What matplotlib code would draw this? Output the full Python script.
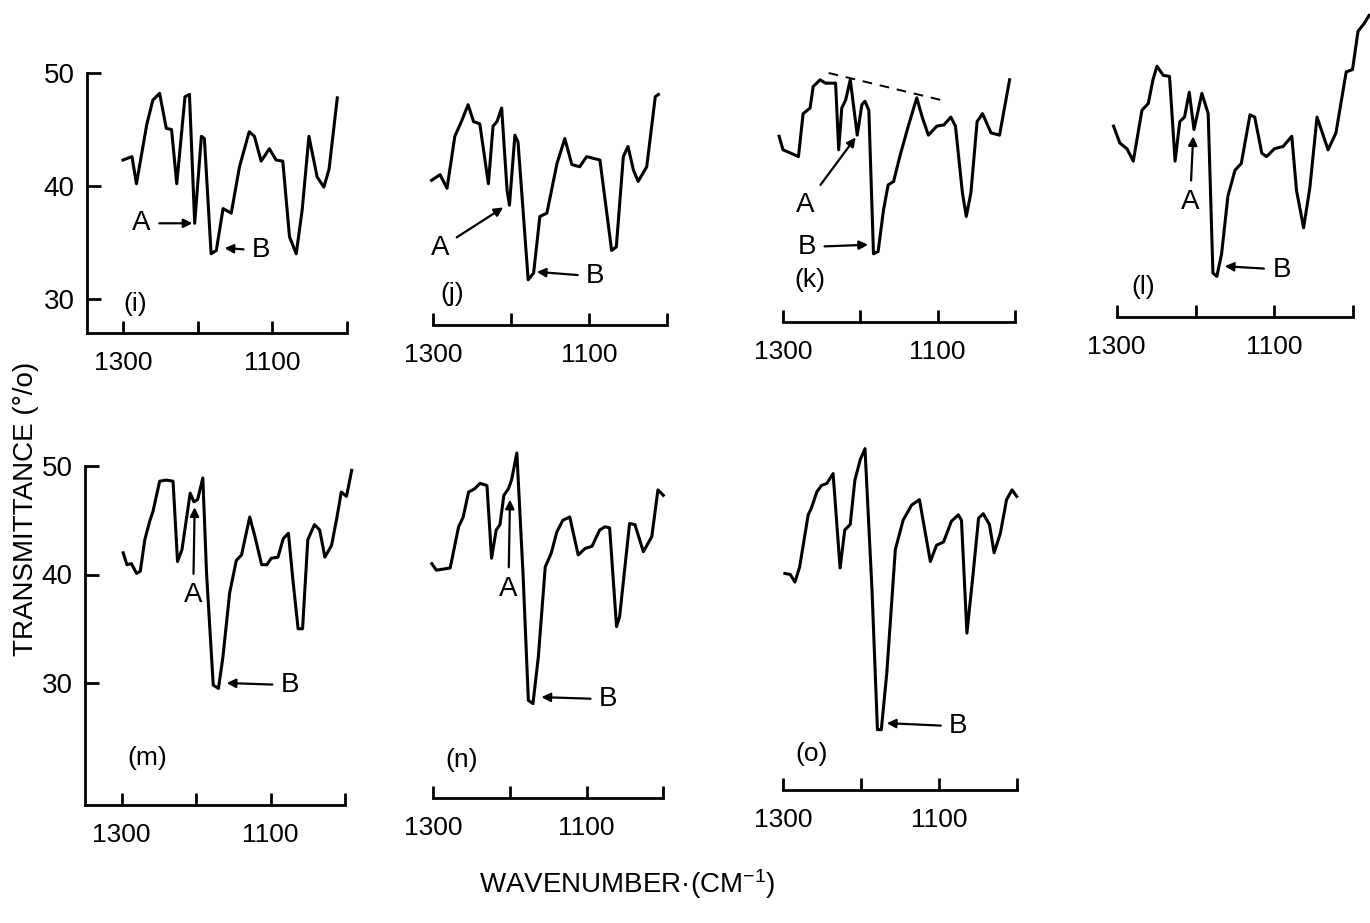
import matplotlib
matplotlib.use("Agg")
import matplotlib.pyplot as plt

plt.rcParams["font.family"] = ["Liberation Sans", "DejaVu Sans"]
plt.rcParams["mathtext.fontset"] = "custom"
plt.rcParams["mathtext.rm"] = "Liberation Sans"
plt.rcParams["mathtext.it"] = "Liberation Sans"

# ── DATA ─────────────────────────────────────────────────────────────────────
wn_i = [1300, 1288, 1282, 1268, 1260, 1251, 1242, 1235, 1228, 1217, 1211, 1204, 1195, 1191, 1182,
        1175, 1166, 1155, 1144, 1131, 1124, 1115, 1104, 1095, 1086, 1077, 1068, 1060, 1051, 1040,
        1031, 1024, 1013]
tr_i = [42.3, 42.6, 40.2, 45.5, 47.6, 48.2, 45.1, 45.0, 40.2, 47.9, 48.1, 36.7, 44.4, 44.2, 34.0,
        34.3, 38.0, 37.6, 41.7, 44.8, 44.4, 42.2, 43.3, 42.3, 42.2, 35.5, 34.0, 37.9, 44.4, 40.8,
        39.9, 41.5, 47.8]

wn_j = [1302, 1291, 1282, 1272, 1263, 1255, 1248, 1240, 1229, 1223, 1218, 1212, 1205, 1202, 1195,
        1191, 1178, 1171, 1163, 1154, 1141, 1131, 1122, 1112, 1103, 1086, 1071, 1065, 1056, 1050,
        1043, 1037, 1026, 1015, 1011]
tr_j = [40.5, 41.0, 39.8, 44.4, 45.8, 47.2, 45.7, 45.5, 40.2, 45.3, 45.7, 46.9, 39.6, 38.3, 44.5,
        43.9, 31.7, 32.3, 37.3, 37.6, 42.0, 44.2, 41.9, 41.7, 42.6, 42.3, 34.3, 34.6, 42.6, 43.5,
        41.4, 40.4, 41.7, 47.9, 48.1]

wn_k = [1305, 1300, 1293, 1280, 1274, 1265, 1261, 1252, 1245, 1237, 1232, 1228, 1224, 1219, 1213,
        1204, 1198, 1194, 1189, 1183, 1177, 1170, 1164, 1157, 1149, 1138, 1127, 1120, 1112, 1101,
        1092, 1083, 1077, 1068, 1063, 1057, 1049, 1042, 1031, 1020, 1007]
tr_k = [44.4, 43.2, 43.0, 42.6, 46.4, 46.9, 48.8, 49.4, 49.1, 49.1, 49.1, 43.2, 46.9, 47.6, 49.4,
        44.5, 47.2, 47.5, 46.7, 34.0, 34.2, 37.9, 40.1, 40.4, 42.6, 45.3, 47.8, 46.1, 44.5, 45.3,
        45.4, 46.1, 45.3, 39.4, 37.3, 39.4, 45.7, 46.4, 44.7, 44.5, 49.4]
baseline_k = [(1241, 1089), (50.0, 47.5)]   # dashed baseline drawn over (k)

wn_l = [1304, 1296, 1287, 1279, 1268, 1260, 1254, 1249, 1241, 1233, 1226, 1220, 1214, 1208, 1202,
        1192, 1184, 1178, 1173, 1167, 1159, 1150, 1142, 1131, 1125, 1116, 1110, 1100, 1089, 1078,
        1072, 1063, 1055, 1046, 1032, 1022, 1009, 1001, 994, 986, 980]
tr_l = [45.3, 43.8, 43.3, 42.2, 46.7, 47.3, 49.4, 50.6, 49.8, 49.7, 42.2, 45.7, 46.1, 48.3, 45.0,
        48.2, 46.4, 32.3, 32.0, 34.0, 39.1, 41.4, 42.0, 46.3, 46.1, 42.9, 42.6, 43.3, 43.5, 44.4,
        39.6, 36.3, 39.9, 46.1, 43.2, 44.7, 50.1, 50.3, 53.7, 54.4, 55.1]

wn_m = [1298, 1293, 1287, 1280, 1275, 1269, 1262, 1258, 1249, 1240, 1231, 1225, 1219, 1208, 1203,
        1198, 1191, 1186, 1177, 1170, 1164, 1155, 1146, 1139, 1128, 1121, 1112, 1105, 1099, 1090,
        1083, 1076, 1070, 1063, 1057, 1050, 1041, 1034, 1027, 1018, 1011, 1005, 998, 991]
tr_m = [42.0, 40.9, 41.0, 40.1, 40.3, 43.2, 45.0, 45.8, 48.6, 48.7, 48.6, 41.2, 42.3, 47.5, 46.7,
        46.9, 48.9, 40.1, 29.8, 29.5, 32.4, 38.3, 41.3, 41.8, 45.3, 43.5, 40.9, 40.9, 41.5, 41.6,
        43.3, 43.8, 39.5, 35.0, 35.0, 43.2, 44.6, 44.1, 41.6, 42.7, 45.2, 47.6, 47.2, 49.6]

wn_n = [1302, 1296, 1278, 1267, 1261, 1254, 1246, 1239, 1230, 1224, 1218, 1213, 1208, 1202, 1198,
        1191, 1183, 1176, 1170, 1163, 1154, 1146, 1139, 1131, 1122, 1111, 1102, 1093, 1083, 1076,
        1070, 1061, 1057, 1044, 1037, 1026, 1015, 1007, 1000]
tr_n = [41.0, 40.4, 40.6, 44.4, 45.3, 47.6, 47.9, 48.4, 48.2, 41.5, 44.1, 44.6, 47.3, 47.9, 48.7,
        51.2, 40.1, 28.4, 28.1, 32.4, 40.7, 42.0, 43.9, 45.0, 45.3, 41.8, 42.4, 42.6, 44.1, 44.4,
        44.3, 35.2, 36.1, 44.7, 44.6, 42.1, 43.5, 47.8, 47.3]

wn_o = [1298, 1291, 1285, 1279, 1268, 1264, 1257, 1251, 1244, 1236, 1227, 1221, 1214, 1208, 1201,
        1195, 1186, 1179, 1174, 1167, 1156, 1146, 1135, 1125, 1111, 1103, 1094, 1084, 1075, 1071,
        1064, 1056, 1049, 1043, 1035, 1029, 1021, 1013, 1006, 1000]
tr_o = [40.1, 40.0, 39.3, 40.7, 45.5, 46.1, 47.6, 48.2, 48.4, 49.3, 40.6, 44.1, 44.6, 48.7, 50.6,
        51.6, 38.6, 25.7, 25.7, 30.9, 42.3, 45.0, 46.4, 46.9, 41.2, 42.7, 43.0, 44.9, 45.5, 45.0,
        34.6, 40.1, 45.2, 45.6, 44.6, 42.0, 43.8, 46.9, 47.8, 47.2]

x_ticks = [1300, 1200, 1100, 1000]
x_tick_labels = ["1300", "", "1100", ""]
y_ticks = [30, 40, 50]
y_tick_labels = ["30", "40", "50"]

# ── LAYOUT (pixel geometry of each scanned panel) ────────────────────────────
# px of 1300 tick, px of 1000 tick, baseline py, py of T=50, px per % T, y-axis px
panels = [
    ("(i)", wn_i, tr_i, (123.0, 347.0, 333, 73, 11.3, 87)),
    ("(j)", wn_j, tr_j, (433.0, 667.0, 325, 73, 11.3, None)),
    ("(k)", wn_k, tr_k, (783.0, 1015.0, 322, 73, 11.3, None)),
    ("(l)", wn_l, tr_l, (1116.7, 1353.3, 317, 73, 11.3, None)),
    ("(m)", wn_m, tr_m, (121.7, 345.0, 805, 466, 10.85, 85)),
    ("(n)", wn_n, tr_n, (433.3, 663.3, 798, 466, 10.85, None)),
    ("(o)", wn_o, tr_o, (783.3, 1016.7, 790, 466, 10.85, None)),
]
# letter, arrow head (wn, T), text position (wn, T)
marks = {
    "(i)": [("A", (1207, 36.7), (1275, 36.7)), ("B", (1164, 34.5), (1115, 34.3))],
    "(j)": [("A", (1210, 38.1), (1291, 34.5)), ("B", (1167, 32.4), (1092, 32.0))],
    "(k)": [("A", (1206, 44.3), (1271, 38.3)), ("B", (1190, 34.8), (1269, 34.6))],
    "(l)": [("A", (1203, 44.4), (1207, 38.6)), ("B", (1163, 32.9), (1091, 32.6))],
    "(m)": [("A", (1202, 46.2), (1204, 38.1)), ("B", (1159, 30.0), (1074, 29.8))],
    "(n)": [("A", (1200, 46.9), (1202, 38.7)), ("B", (1159, 28.7), (1072, 28.5))],
    "(o)": [("B", (1167, 26.3), (1075, 26.0))],
}
label_pos = {"(i)": (1284, 29.6), "(j)": (1276, 30.4), "(k)": (1265, 31.7), "(l)": (1266, 31.1),
             "(m)": (1266, 23.1), "(n)": (1263, 22.9), "(o)": (1264, 23.5)}

W, H = 1370, 923
fig = plt.figure(figsize=(W / 100, H / 100), dpi=100)

for name, wn, tr, (p1300, p1000, base, y50, ppu, yax) in panels:
    ppx = (p1000 - p1300) / 300.0
    left_px = yax if yax is not None else p1300 - 4
    xleft = 1300 + (p1300 - left_px) / ppx
    xright = 970
    right_px = p1300 + (1300 - xright) * ppx
    ybot = 50 - (base - y50) / ppu
    ytop = 57
    top_px = y50 - (ytop - 50) * ppu
    ax = fig.add_axes([left_px / W, 1 - base / H, (right_px - left_px) / W, (base - top_px) / H])
    ax.set_xlim(xleft, xright)
    ax.set_ylim(ybot, ytop)
    ax.patch.set_alpha(0)

    ax.plot(wn, tr, color="black", lw=2.2, clip_on=False, solid_joinstyle="round")

    ax.spines["top"].set_visible(False)
    ax.spines["right"].set_visible(False)
    for s in ax.spines.values():
        s.set_linewidth(2.0)
    ax.spines["bottom"].set_bounds(1000, xleft if yax is not None else 1300)
    ax.set_xticks(x_ticks)
    ax.set_xticklabels(x_tick_labels)
    ax.tick_params(axis="x", direction="in", length=9, width=2, labelsize=19, pad=13)
    if yax is not None:
        ax.spines["left"].set_bounds(ybot, 50)
        ax.set_yticks(y_ticks)
        ax.set_yticklabels(y_tick_labels)
        ax.tick_params(axis="y", direction="in", length=10, width=2, labelsize=20, pad=9)
    else:
        ax.spines["left"].set_visible(False)
        ax.set_yticks([])

    for letter, head, txt in marks[name]:
        ax.annotate(letter, xy=head, xytext=txt, ha="center", va="center", fontsize=20,
                    annotation_clip=False,
                    arrowprops=dict(arrowstyle="-|>", color="black", lw=1.6,
                                    mutation_scale=13, shrinkA=4, shrinkB=0))
    ax.text(*label_pos[name], name, ha="center", va="center", fontsize=19)

    if name == "(k)":
        ax.plot(*baseline_k, color="black", lw=1.4, ls=(0, (5, 4)))

fig.text(26 / W, 1 - 509 / H, "TRANSMITTANCE (°/o)", rotation=90, ha="center", va="center",
         fontsize=20)
fig.text(627 / W, 1 - 884 / H, r"WAVENUMBER·(CM$^{-1}$)", ha="center", va="center", fontsize=20)

fig.savefig("out.png", dpi=100)
